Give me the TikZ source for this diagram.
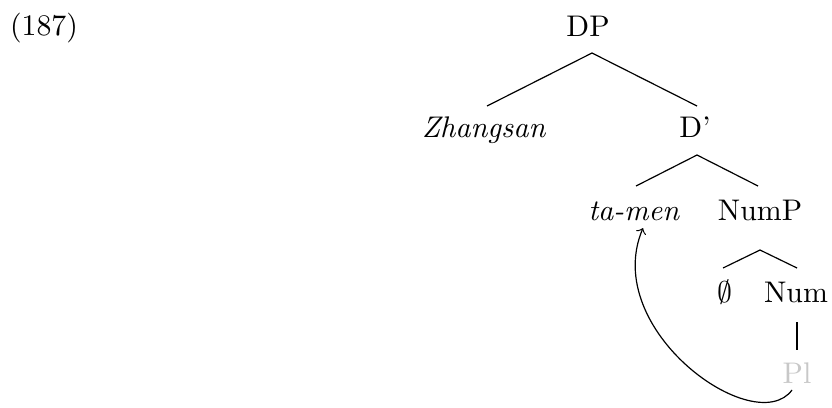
\documentclass[tikz,border=0pt]{standalone}
\begin{document}
\begin{tikzpicture}[x=0.335pt,y=-0.335pt,
  lbl/.style={anchor=base,inner sep=0pt,outer sep=0pt,font=\fontsize{10}{12}\selectfont},
  branch/.style={line width=0.4pt},
  gr/.style={text={rgb,255:red,200;green,200;blue,200}}]
\useasboundingbox (0,0) rectangle (832,407);
\node[lbl,anchor=base west] (ex) at (10,35) {(187)};
\node[lbl] (DP) at (588,36) {DP};
\node[lbl] (Zh) at (484,137) {\textit{Zhangsan}};
\node[lbl] (Dbar) at (695,137) {D'};
\node[lbl] (ta) at (634,220) {\textit{ta-men}};
\node[lbl] (NumP) at (760,220) {NumP};
\node[lbl] (empty) at (725,302) {$\emptyset$};
\node[lbl] (Num) at (796,302) {Num};
\node[lbl,gr] (Pl) at (797,383) {Pl};
% branch points
\coordinate (dpB) at (592,53);
\coordinate (zhT) at (487,106);
\coordinate (dbT) at (697,106);
\coordinate (dbB) at (697,155);
\coordinate (taT) at (636,186);
\coordinate (npT) at (758,186);
\coordinate (npB) at (760,250);
\coordinate (emT) at (723,268);
\coordinate (nmT) at (797,268);
\coordinate (nmB) at (797,322);
\coordinate (plT) at (797,350);
\coordinate (plB) at (792,390);
\coordinate (taB) at (643,228);
\draw[branch] (zhT) -- (dpB) -- (dbT);
\draw[branch] (taT) -- (dbB) -- (npT);
\draw[branch] (emT) -- (npB) -- (nmT);
\draw[branch] (nmB) -- (plT);
\draw[branch,->] (plB) .. controls (755,440) and (600,330) .. (taB);
\end{tikzpicture}
\end{document}
